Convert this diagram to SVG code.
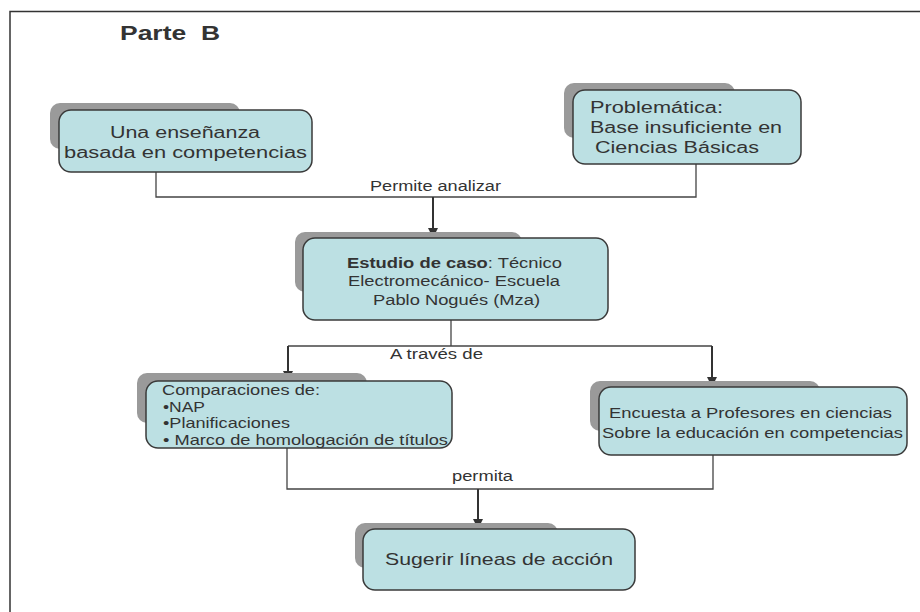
<svg xmlns="http://www.w3.org/2000/svg" width="920" height="612" viewBox="0 0 920 612">
<style>
.shadow{fill:#9a9a9a;}
.box{fill:#bce0e3;stroke:#3a3a3a;stroke-width:1.5;}
.t{font-family:"Liberation Sans",Arial,sans-serif;fill:#333;}
.conn{fill:none;stroke:#444;stroke-width:1.3;}
.arr{fill:none;stroke:#333;stroke-width:2;}
</style>
<defs>
<marker id="ah" viewBox="0 0 10 10" refX="9" refY="5" markerWidth="5" markerHeight="5" orient="auto" markerUnits="strokeWidth">
<path d="M0,0 L10,5 L0,10 z" fill="#333"/>
</marker>
</defs>
<rect width="920" height="612" fill="#fff"/>
<path d="M10,612 V11.5 H920" fill="none" stroke="#333" stroke-width="1.5"/>
<text class="t" x="120" y="40" font-size="21" font-weight="bold" textLength="100" lengthAdjust="spacingAndGlyphs" xml:space="preserve">Parte  B</text>

<g id="connectors">
<path class="conn" d="M156,172 V197 H696 V164"/>
<text class="t" x="370" y="191" font-size="14" textLength="131" lengthAdjust="spacingAndGlyphs">Permite analizar</text>
<line class="arr" x1="433" y1="197" x2="433" y2="237" marker-end="url(#ah)"/>
<path class="conn" d="M451,320 V346"/>
<path class="conn" d="M288,346 H712"/>
<line class="arr" x1="288" y1="346" x2="288" y2="380" marker-end="url(#ah)"/>
<line class="arr" x1="712" y1="346" x2="712" y2="386" marker-end="url(#ah)"/>
<text class="t" x="390" y="359" font-size="14" textLength="93" lengthAdjust="spacingAndGlyphs">A través de</text>
<path class="conn" d="M287,448 V489 H713 V455"/>
<text class="t" x="452" y="481" font-size="14" textLength="61" lengthAdjust="spacingAndGlyphs">permita</text>
<line class="arr" x1="478" y1="489" x2="478" y2="528" marker-end="url(#ah)"/>
</g>

<g id="n1">
<rect class="shadow" x="50" y="103" width="190" height="46" rx="10"/>
<rect class="box" x="59" y="110" width="253" height="62" rx="12"/>
<text class="t" x="110" y="138" font-size="16" textLength="150" lengthAdjust="spacingAndGlyphs">Una enseñanza</text>
<text class="t" x="64" y="158" font-size="16" textLength="243" lengthAdjust="spacingAndGlyphs">basada en competencias</text>
</g>

<g id="n2">
<rect class="shadow" x="564" y="83" width="171" height="55" rx="10"/>
<rect class="box" x="573" y="90" width="228" height="74" rx="12"/>
<text class="t" x="590" y="113" font-size="16" textLength="133" lengthAdjust="spacingAndGlyphs">Problemática:</text>
<text class="t" x="590" y="133" font-size="16" textLength="192" lengthAdjust="spacingAndGlyphs">Base insuficiente en</text>
<text class="t" x="595" y="153" font-size="16" textLength="164" lengthAdjust="spacingAndGlyphs">Ciencias Básicas</text>
</g>

<g id="n3">
<rect class="shadow" x="295" y="232" width="227" height="60" rx="10"/>
<rect class="box" x="303" y="238" width="305" height="82" rx="12"/>
<text class="t" x="347" y="268" font-size="14" textLength="215" lengthAdjust="spacingAndGlyphs"><tspan font-weight="bold">Estudio de caso</tspan>: Técnico</text>
<text class="t" x="348" y="286" font-size="14" textLength="212" lengthAdjust="spacingAndGlyphs">Electromecánico- Escuela</text>
<text class="t" x="373" y="305" font-size="14" textLength="167" lengthAdjust="spacingAndGlyphs">Pablo Nogués (Mza)</text>
</g>

<g id="n4">
<rect class="shadow" x="137" y="373" width="230" height="50" rx="10"/>
<rect class="box" x="146" y="381" width="306" height="67" rx="12"/>
<text class="t" x="162" y="395" font-size="15" textLength="158" lengthAdjust="spacingAndGlyphs">Comparaciones de:</text>
<text class="t" x="163" y="412" font-size="15" textLength="42" lengthAdjust="spacingAndGlyphs">•NAP</text>
<text class="t" x="163" y="428" font-size="15" textLength="127" lengthAdjust="spacingAndGlyphs">•Planificaciones</text>
<text class="t" x="163" y="445" font-size="15" textLength="285" lengthAdjust="spacingAndGlyphs">• Marco de homologación de títulos</text>
</g>

<g id="n5">
<rect class="shadow" x="590" y="381" width="230" height="50" rx="10"/>
<rect class="box" x="599" y="387" width="308" height="68" rx="12"/>
<text class="t" x="609" y="418" font-size="15" textLength="283" lengthAdjust="spacingAndGlyphs">Encuesta a Profesores en ciencias</text>
<text class="t" x="602" y="438" font-size="15" textLength="301" lengthAdjust="spacingAndGlyphs">Sobre la educación en competencias</text>
</g>

<g id="n6">
<rect class="shadow" x="355" y="523" width="203" height="45" rx="10"/>
<rect class="box" x="363" y="529" width="272" height="61" rx="12"/>
<text class="t" x="385" y="565" font-size="17" textLength="228" lengthAdjust="spacingAndGlyphs">Sugerir líneas de acción</text>
</g>
</svg>
